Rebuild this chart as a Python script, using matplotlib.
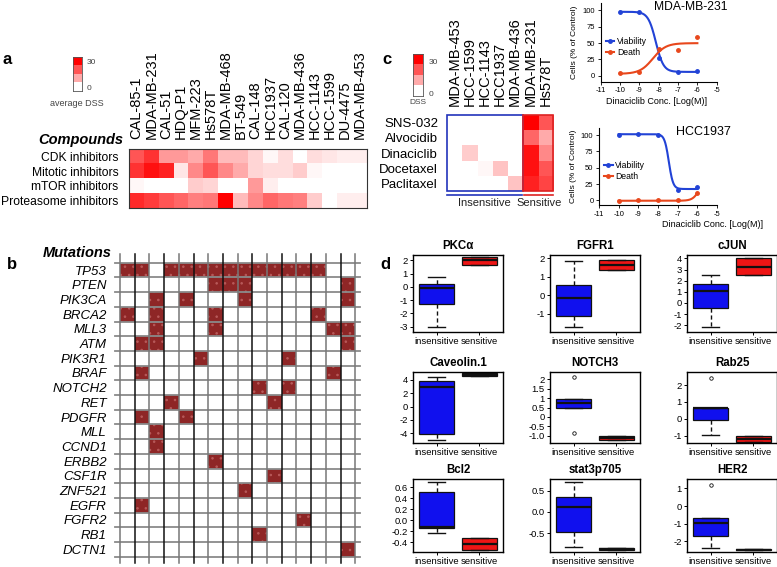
import numpy as np
import matplotlib
matplotlib.use("Agg")
import matplotlib.pyplot as plt
from matplotlib.colors import LinearSegmentedColormap
from matplotlib.patches import Rectangle

plt.rcParams['font.family'] = ['Liberation Sans', 'DejaVu Sans']
plt.rcParams['axes.unicode_minus'] = False
plt.rcParams['hatch.linewidth'] = 0.6

# ---- data ----
cells_a = ['CAL-85-1', 'MDA-MB-231', 'CAL-51', 'HDQ-P1', 'MFM-223', 'Hs578T',
           'MDA-MB-468', 'BT-549', 'CAL-148', 'HCC1937', 'CAL-120', 'MDA-MB-436',
           'HCC-1143', 'HCC-1599', 'DU-4475', 'MDA-MB-453']
compounds = ['CDK inhibitors', 'Mitotic inhibitors', 'mTOR inhibitors', 'Proteasome inhibitors']
cdk_dss = [20, 24, 12, 12, 10, 16, 8, 8, 5, 1, 4, 0, 4, 3, 2, 2]
mitotic_dss = [24, 28, 26, 3, 14, 20, 14, 10, 5, 4, 4, 6, 1, 0, 0, 0]
mtor_dss = [1, 0, 0, 0, 6, 5, 0, 0, 12, 2, 0, 0, 0, 0, 0, 0]
proteasome_dss = [25, 23, 20, 18, 15, 16, 30, 8, 14, 18, 16, 15, 6, 0, 2, 2]

genes = ['TP53', 'PTEN', 'PIK3CA', 'BRCA2', 'MLL3', 'ATM', 'PIK3R1', 'BRAF', 'NOTCH2',
         'RET', 'PDGFR', 'MLL', 'CCND1', 'ERBB2', 'CSF1R', 'ZNF521', 'EGFR', 'FGFR2',
         'RB1', 'DCTN1']
# mutated cell line indices (columns of cells_a) per gene
mutated = [[0, 1, 3, 4, 5, 6, 7, 8, 9, 10, 11, 12, 13], [6, 7, 8, 15], [2, 4, 8, 15],
           [0, 2, 6, 13], [2, 6, 14, 15], [1, 2, 15], [5, 11], [1, 14], [9, 11],
           [3, 10], [1, 4], [2], [2], [6], [10], [8], [1], [12], [9], [15]]

cells_c = ['MDA-MB-453', 'HCC-1599', 'HCC-1143', 'HCC1937', 'MDA-MB-436', 'MDA-MB-231', 'Hs578T']
drugs_c = ['SNS-032', 'Alvocidib', 'Dinaciclib', 'Docetaxel', 'Paclitaxel']
sns032 = [0, 0, 0, 0, 0, 30, 20]
alvocidib = [0, 0, 0, 0, 0, 18, 10]
dinaciclib = [0, 6, 0, 0, 0, 28, 14]
docetaxel = [0, 0, 1, 7, 0, 28, 20]
paclitaxel = [0, 0, 0, 0, 7, 26, 22]

conc = [-10, -9, -8, -7, -6]
mda231_viab = [98, 98, 28, 6.5, 7.5]
mda231_death = [4, 6, 41, 40, 60]
hcc1937_viab = [100, 102, 100, 15.5, 20.5]
hcc1937_death = [-1, 0, 0, 0, 12]
# fitted curve parameters (bottom, top, logEC50, hill)
mda231_viab_fit = (6, 98, -8.15, 2.2)
mda231_death_fit = (3, 50, -8.3, 1.3)
hcc1937_viab_fit = (17.5, 101.5, -7.45, 4.0)
hcc1937_death_fit = (-0.5, 40, -5.85, 2.5)

proteins = ['PKCα', 'FGFR1', 'cJUN', 'Caveolin.1', 'NOTCH3', 'Rab25', 'Bcl2', 'stat3p705', 'HER2']
# whislo, q1, med, q3, whishi
insens_stats = [(-3.0, -1.3, -0.1, 0.25, 0.75), (-1.7, -1.12, -0.15, 0.55, 1.85),
                (-2.15, -0.45, 1.05, 1.7, 2.55), (-5.1, -4.1, 3.0, 3.9, 4.5),
                (0.5, 0.5, 0.72, 0.97, 0.97), (-0.95, -0.06, 0.62, 0.67, 0.67),
                (-0.24, -0.15, -0.13, 0.51, 0.69), (-0.82, -0.48, 0.12, 0.35, 0.70),
                (-2.4, -1.7, -0.96, -0.67, -0.67)]
insens_fliers = [[], [], [], [], [-0.85, 2.15], [2.4], [], [], [1.2]]
sens_stats = [(1.65, 1.65, 2.0, 2.25, 2.25), (1.38, 1.38, 1.65, 1.92, 1.92),
              (2.5, 2.5, 3.2, 4.0, 4.0), (4.65, 4.65, 4.8, 5.0, 5.0),
              (-1.25, -1.25, -1.12, -1.0, -1.0), (-1.38, -1.38, -1.2, -1.0, -1.0),
              (-0.54, -0.54, -0.43, -0.33, -0.33), (-0.9, -0.9, -0.88, -0.86, -0.86),
              (-2.5, -2.5, -2.47, -2.45, -2.45)]
ylims = [(-3.4, 2.4), (-1.98, 2.17), (-2.6, 4.3), (-5.5, 5.2), (-1.39, 2.4),
         (-1.42, 2.77), (-0.58, 0.75), (-0.95, 0.78), (-2.6, 1.53)]
yticks = [[-3, -2, -1, 0, 1, 2], [-1, 0, 1, 2], [-2, -1, 0, 1, 2, 3, 4], [-4, -2, 0, 2, 4],
          [-1.0, -0.5, 0, 0.5, 1, 1.5, 2], [-1, 0, 1, 2], [-0.4, -0.2, 0.0, 0.2, 0.4, 0.6],
          [-0.5, 0.0, 0.5], [-2, -1, 0, 1]]
ytick_labels = [None, None, None, None, ['-1.0', '-0.5', '0', '0.5', '1', '1.5', '2'], None,
                ['-0.4', '-0.2', '0.0', '0.2', '0.4', '0.6'], ['-0.5', '0.0', '0.5'], None]

W, H = 777, 567


def rect(l, t, w, h):
    return [l / W, 1 - (t + h) / H, w / W, h / H]


cmap = LinearSegmentedColormap.from_list('wr', ['#ffffff', '#ff0000'])
fig = plt.figure(figsize=(W / 100, H / 100), dpi=100)

# ---- panel a ----
fig.text(7 / W, 1 - 60 / H, 'a', fontsize=12, fontweight='bold', ha='center', va='center')
ax = fig.add_axes(rect(129, 149, 238, 59))
ax.imshow(np.array([cdk_dss, mitotic_dss, mtor_dss, proteasome_dss]), cmap=cmap,
          vmin=0, vmax=30, aspect='auto')
ax.xaxis.tick_top()
ax.set_xticks(range(len(cells_a)))
ax.set_xticklabels(cells_a, rotation=90, fontsize=10.5)
ax.set_yticks(range(len(compounds)))
ax.set_yticklabels(compounds, fontsize=8.7)
ax.tick_params(top=False, left=False, pad=4)
for s in ax.spines.values():
    s.set_color('#333333')
    s.set_linewidth(0.8)
fig.text(123 / W, 1 - 140 / H, 'Compounds', fontsize=10.5, fontweight='bold',
         style='italic', ha='right', va='center')

cax = fig.add_axes(rect(73, 57, 9, 34))
cax.imshow(np.array([[30], [20], [10], [0]]), cmap=cmap, vmin=0, vmax=30, aspect='auto')
cax.set_xticks([])
cax.set_yticks([])
for s in cax.spines.values():
    s.set_color('#555555')
    s.set_linewidth(0.6)
fig.text(87 / W, 1 - 62 / H, '30', fontsize=6, color='#444444', va='center')
fig.text(87 / W, 1 - 89 / H, '0', fontsize=6, color='#444444', va='center')
fig.text(77 / W, 1 - 103 / H, 'average DSS', fontsize=6.5, color='#444444', ha='center', va='center')

# ---- panel b ----
fig.text(12 / W, 1 - 265 / H, 'b', fontsize=12, fontweight='bold', ha='center', va='center')
ax = fig.add_axes(rect(120, 262.7, 235.3, 294))
ax.set_xlim(0, len(cells_a))
ax.set_ylim(len(genes), 0)
for i, cols in enumerate(mutated):
    for j in cols:
        ax.add_patch(Rectangle((j, i), 1, 1, facecolor='#8e2626', edgecolor='#b85a5a',
                               hatch='..', linewidth=0))
for i in range(len(genes) + 1):
    ax.plot([-0.35, len(cells_a) + 0.3], [i, i], color='#8a8a8a', lw=1.3, clip_on=False)
for j in range(len(cells_a) + 1):
    ax.plot([j, j], [-0.6, len(genes) + 0.4], color='#111111' if j % 2 else '#777777',
            lw=1.1, clip_on=False)
ax.set_yticks(np.arange(len(genes)) + 0.5)
ax.set_yticklabels(genes, fontsize=9.5, style='italic')
ax.set_xticks([])
ax.tick_params(left=False, pad=6)
for s in ax.spines.values():
    s.set_visible(False)
fig.text(112 / W, 1 - 253 / H, 'Mutations', fontsize=10.5, fontweight='bold',
         style='italic', ha='right', va='center')

# ---- panel c heatmap ----
fig.text(387 / W, 1 - 60 / H, 'c', fontsize=12, fontweight='bold', ha='center', va='center')
ax = fig.add_axes(rect(447, 115, 106, 76))
ax.imshow(np.array([sns032, alvocidib, dinaciclib, docetaxel, paclitaxel]), cmap=cmap,
          vmin=0, vmax=30, aspect='auto')
ax.xaxis.tick_top()
ax.set_xticks(range(len(cells_c)))
ax.set_xticklabels(cells_c, rotation=90, fontsize=10.5)
ax.set_yticks(range(len(drugs_c)))
ax.set_yticklabels(drugs_c, fontsize=9.5)
ax.tick_params(top=False, left=False, pad=3)
for s in ax.spines.values():
    s.set_visible(False)
ax.add_patch(Rectangle((-0.5, -0.5), 5, 5, fill=False, edgecolor='#2233bb', lw=1.2, clip_on=False))
ax.add_patch(Rectangle((4.5, -0.5), 2, 5, fill=False, edgecolor='#dd2222', lw=1.2, clip_on=False))
ax.plot([-0.5, 4.45], [4.78, 4.78], color='#2233bb', lw=1.2, clip_on=False)
ax.plot([4.6, 6.5], [4.78, 4.78], color='#dd2222', lw=1.2, clip_on=False)
ax.text(2.0, 5.3, 'Insensitive', fontsize=8, ha='center', va='center', color='#222222')
ax.text(5.6, 5.3, 'Sensitive', fontsize=8, ha='center', va='center', color='#222222')
ax.set_xlim(-0.5, 6.5)
ax.set_ylim(4.5, -0.5)

cax = fig.add_axes(rect(413, 54, 10, 42))
cax.imshow(np.array([[30], [20], [10], [0]]), cmap=cmap, vmin=0, vmax=30, aspect='auto')
cax.set_xticks([])
cax.set_yticks([])
for s in cax.spines.values():
    s.set_color('#555555')
    s.set_linewidth(0.6)
fig.text(429 / W, 1 - 62 / H, '30', fontsize=6, color='#444444', va='center')
fig.text(429 / W, 1 - 94 / H, '0', fontsize=6, color='#444444', va='center')
fig.text(418 / W, 1 - 103 / H, 'DSS', fontsize=6, color='#444444', ha='center', va='center')


# ---- panel c dose response ----
def logistic_down(x, p):
    b, t, e, h = p
    return b + (t - b) / (1 + 10 ** (h * (x - e)))


def logistic_up(x, p):
    b, t, e, h = p
    return b + (t - b) / (1 + 10 ** (h * (e - x)))


blue, red = '#2243d6', '#e8471c'
xs = np.linspace(conc[0], conc[-1], 200)
for (l, t, w, h), name, viab, death, vfit, dfit, ylim, xlab_x, title_xy, title_fs in [
        ((600.7, 3.3, 116, 78.4), 'MDA-MB-231', mda231_viab, mda231_death,
         mda231_viab_fit, mda231_death_fit, (-9, 111), 0.48, (691, 1), 8.7),
        ((599, 128, 118, 77), 'HCC1937', hcc1937_viab, hcc1937_death,
         hcc1937_viab_fit, hcc1937_death_fit, (-7, 111), 0.96, (703, 126), 9)]:
    ax = fig.add_axes(rect(l, t, w, h))
    ax.plot(xs, logistic_down(xs, vfit), color=blue, lw=1.5)
    ax.plot(conc, viab, 'o', color=blue, ms=2.5)
    ax.plot(xs, logistic_up(xs, dfit), color=red, lw=1.5)
    ax.plot(conc, death, 'o', color=red, ms=2.5)
    ax.plot([], [], '-o', color=blue, lw=1.5, ms=2.5, label='Viability')
    ax.plot([], [], '-o', color=red, lw=1.5, ms=2.5, label='Death')
    ax.legend(loc='upper left', bbox_to_anchor=(0.0, 0.64), frameon=False, fontsize=6.2,
              handlelength=1.0, handletextpad=0.3, borderpad=0.1, labelspacing=0.25)
    ax.set_xlim(-11, -5)
    ax.set_ylim(*ylim)
    ax.set_xticks(range(-11, -4))
    ax.set_yticks([0, 25, 50, 75, 100])
    ax.tick_params(labelsize=5.5, length=2.5, width=0.6, pad=1.5)
    ax.spines['top'].set_visible(False)
    ax.spines['right'].set_visible(False)
    ax.set_xlabel('Dinaciclib Conc. [Log(M)]', fontsize=6.5, labelpad=1)
    ax.xaxis.set_label_coords(xlab_x, -0.2)
    ax.set_ylabel('Cells (% of Control)', fontsize=6, labelpad=3)
    fig.text(title_xy[0] / W, 1 - title_xy[1] / H, name, fontsize=title_fs,
             ha='center', va='top')

# ---- panel d ----
fig.text(385 / W, 1 - 265 / H, 'd', fontsize=12, fontweight='bold', ha='center', va='center')
col_left = [413, 550, 687]
row_top = [255, 372, 479]
row_h = [77, 71, 73]
for k, name in enumerate(proteins):
    r, c = divmod(k, 3)
    ax = fig.add_axes(rect(col_left[c], row_top[r], 90, row_h[r]))
    stats = []
    for st, fl in [(insens_stats[k], insens_fliers[k]), (sens_stats[k], [])]:
        stats.append(dict(whislo=st[0], q1=st[1], med=st[2], q3=st[3], whishi=st[4], fliers=fl))
    bp = ax.bxp(stats, positions=[1, 2], widths=0.8, patch_artist=True, capwidths=0.4,
                boxprops=dict(linewidth=0.9, edgecolor='#111111'),
                medianprops=dict(color='#111111', linewidth=1.6),
                whiskerprops=dict(color='#111111', linewidth=1.0, linestyle=(0, (3, 2))),
                capprops=dict(color='#111111', linewidth=1.0),
                flierprops=dict(marker='o', markerfacecolor='none', markeredgecolor='#111111',
                                markersize=2.5, markeredgewidth=0.6))
    bp['boxes'][0].set_facecolor('#1010ee')
    bp['boxes'][1].set_facecolor('#ee1515')
    ax.set_xlim(0.45, 2.55)
    ax.set_ylim(*ylims[k])
    ax.set_yticks(yticks[k])
    if ytick_labels[k] is not None:
        ax.set_yticklabels(ytick_labels[k])
    ax.set_xticks([1, 2])
    ax.set_xticklabels(['insensitive', 'sensitive'])
    ax.tick_params(labelsize=6.8, length=2.5, width=0.7, pad=1.2)
    for s in ax.spines.values():
        s.set_linewidth(1.0)
    ax.set_title(name, fontsize=8.3, fontweight='bold', pad=4)

fig.savefig('out.png', dpi=100)
